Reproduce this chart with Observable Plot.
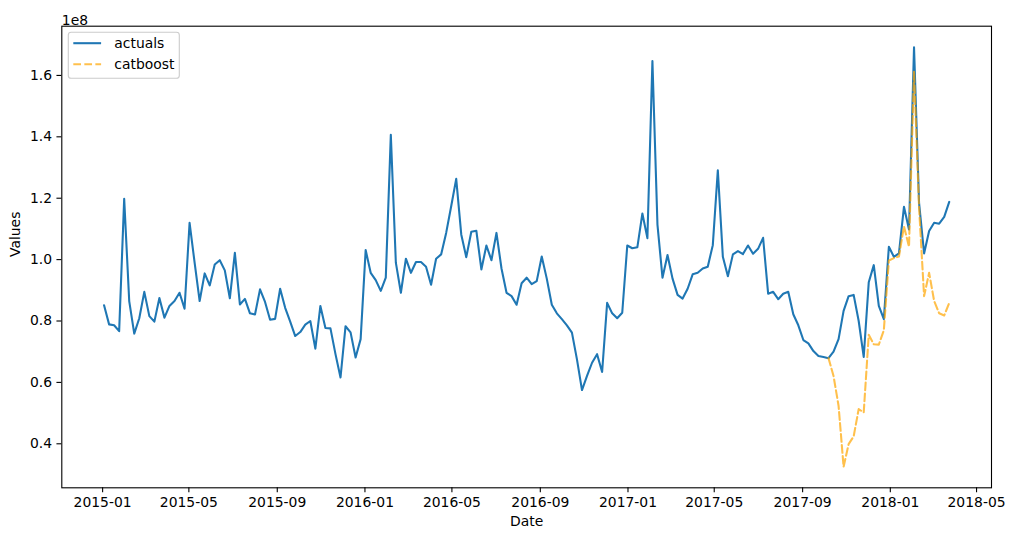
<!DOCTYPE html>
<html><head><meta charset="utf-8">
<script src="https://cdn.jsdelivr.net/npm/d3@7"></script>
<script src="https://cdn.jsdelivr.net/npm/@observablehq/plot@0.6"></script>
<style>
html,body{margin:0;padding:0;background:#fff;}
#chart{position:relative;width:1014px;height:540px;}
</style></head><body><div id="chart"></div>
<script>
// weekly series, first and last week
const startDate = "2015-01-03";
const endDate = "2018-03-24";
// values in units of 1e8
const actuals = [
0.851,0.789,0.786,0.767,1.198,0.865,0.759,0.809,0.895,0.816,
0.798,0.875,0.811,0.849,0.865,0.892,0.840,1.120,0.990,0.865,
0.955,0.916,0.984,0.998,0.965,0.874,1.022,0.854,0.872,0.825,
0.821,0.903,0.862,0.804,0.807,0.905,0.843,0.798,0.751,0.764,
0.788,0.800,0.710,0.849,0.777,0.776,0.692,0.616,0.783,0.763,
0.681,0.741,1.031,0.957,0.933,0.898,0.941,1.407,0.990,0.892,
1.003,0.957,0.992,0.992,0.977,0.918,1.003,1.017,1.087,1.174,
1.263,1.082,1.008,1.091,1.094,0.968,1.046,0.998,1.087,0.971,
0.892,0.881,0.853,0.923,0.941,0.920,0.930,1.010,0.938,0.853,
0.825,0.806,0.786,0.762,0.675,0.575,0.621,0.664,0.692,0.634,
0.859,0.825,0.809,0.827,1.046,1.037,1.040,1.150,1.070,1.647,
1.114,0.941,1.015,0.938,0.885,0.873,0.905,0.952,0.957,0.971,
0.977,1.047,1.291,1.009,0.946,1.017,1.028,1.018,1.046,1.019,
1.035,1.071,0.889,0.895,0.871,0.889,0.895,0.822,0.786,0.738,
0.727,0.702,0.686,0.683,0.679,0.700,0.741,0.833,0.881,0.885,
0.800,0.683,0.926,0.982,0.849,0.806,1.042,1.009,1.020,1.172,
1.098,1.692,1.185,1.020,1.093,1.120,1.117,1.139,1.188
];
// forecast for the last weeks of the series
const catboost = [
0.679,0.621,0.524,0.325,0.399,0.424,0.513,0.502,0.755,0.724,
0.723,0.770,0.997,1.005,1.010,1.108,1.042,1.613,1.170,0.881,
0.957,0.865,0.825,0.818,0.859
];
const yTicks = [0.4, 0.6, 0.8, 1.0, 1.2, 1.4, 1.6];
const seriesNames = ["actuals", "catboost"];
const seriesColors = ["#1f77b4", "orange"];
const yExponent = "1e8";
const xLabel = "Date";
const yLabel = "Values";

const dates = d3.utcSaturday.range(new Date(startDate), d3.utcDay.offset(new Date(endDate), 1));
const actualRows = actuals.map((v, i) => ({date: dates[i], value: v}));
const offset = dates.length - catboost.length;
const catRows = catboost.map((v, i) => ({date: dates[offset + i], value: v}));

const [x0, x1] = d3.extent(dates);
const dx = (x1 - x0) * 0.05;
const xDomain = [new Date(+x0 - dx), new Date(+x1 + dx)];
const [y0, y1] = d3.extent(actuals.concat(catboost));
const dy = (y1 - y0) * 0.05;
const yDomain = [y0 - dy, y1 + dy];
const xTicks = d3.utcMonth.every(4).range(xDomain[0], xDomain[1]);

const FONT = "DejaVu Sans";
const LW = 2.08;          // 1.5pt
const DASH = "7.7,3.33";  // matplotlib "--"
const chart = Plot.plot({
  width: 1014, height: 540,
  marginLeft: 61.3, marginRight: 23, marginTop: 25.7, marginBottom: 52.7,
  style: {fontFamily: FONT, fontSize: "13.9px", color: "#000", background: "#fff", overflow: "visible"},
  x: {type: "utc", domain: xDomain},
  y: {domain: yDomain},
  marks: [
    Plot.lineY(actualRows, {x: "date", y: "value", stroke: seriesColors[0], strokeWidth: LW}),
    Plot.lineY(catRows, {x: "date", y: "value", stroke: seriesColors[1], strokeOpacity: 0.7, strokeWidth: LW, strokeDasharray: DASH}),
    Plot.frame({stroke: "#000", strokeWidth: 1.1}),
    Plot.axisX({ticks: xTicks, tickFormat: d3.utcFormat("%Y-%m"), tickSize: 4.86, tickPadding: 4.86, strokeWidth: 1.1, label: null, fill: "#000"}),
    Plot.axisY({ticks: yTicks, tickFormat: d => d.toFixed(1), tickSize: 4.86, tickPadding: 4.86, strokeWidth: 1.1, label: null, fill: "#000"}),
    Plot.text([xLabel], {frameAnchor: "bottom", dy: 38, fill: "#000"}),
    Plot.text([yLabel], {frameAnchor: "left", dx: -46.5, rotate: -90, fill: "#000"}),
    Plot.text([yExponent], {frameAnchor: "top-left", dy: -11.5, textAnchor: "start", fill: "#000"})
  ]
});
document.getElementById("chart").appendChild(chart);

// legend inside the axes, upper left
const svg = d3.select(chart);
const lg = svg.append("g").attr("font-family", FONT).attr("font-size", "13.9px").attr("text-anchor", "start");
lg.append("rect").attr("x", 68.3).attr("y", 32.3).attr("width", 111).attr("height", 46)
  .attr("rx", 2.8).attr("fill", "#fff").attr("fill-opacity", 0.8).attr("stroke", "#ccc").attr("stroke-width", 1.1);
seriesNames.forEach((name, i) => {
  const yy = 43.2 + i * 21;
  const ln = lg.append("line").attr("x1", 73.3).attr("x2", 101.1).attr("y1", yy).attr("y2", yy)
    .attr("stroke", seriesColors[i]).attr("stroke-width", LW);
  if (i === 1) ln.attr("stroke-opacity", 0.7).attr("stroke-dasharray", DASH);
  lg.append("text").attr("x", 114.3).attr("y", yy).attr("dy", "0.35em").attr("text-anchor", "start").attr("fill", "#000").text(name);
});
</script>
</body></html>
